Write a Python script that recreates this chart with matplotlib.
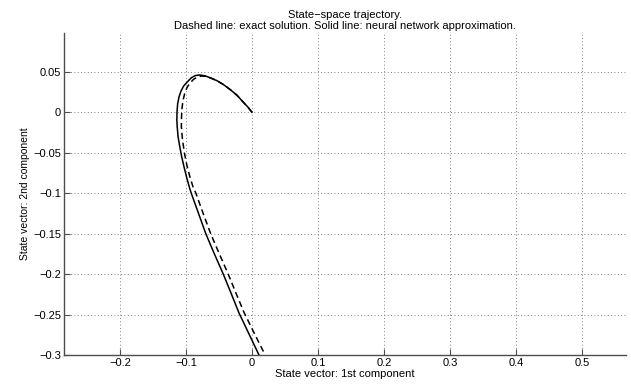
import matplotlib
matplotlib.use('Agg')
import matplotlib.pyplot as plt
from matplotlib import rc

# trajectory (x = 1st component, y = 2nd component)
# solid line: neural network approximation
nn_x = [0.0, -0.006, -0.0127, -0.0227, -0.033, -0.0429, -0.053, -0.063, -0.071, -0.0793,
        -0.086, -0.092, -0.0985, -0.1035, -0.1076, -0.1105, -0.1126, -0.1136,
        -0.1138, -0.1133, -0.112, -0.1095, -0.1065, -0.1028, -0.0985, -0.094,
        -0.092, -0.081, -0.070, -0.057, -0.0435, -0.0315, -0.0197, -0.0045, 0.0106]
nn_y = [0.0, 0.0062, 0.012, 0.021, 0.028, 0.034, 0.039, 0.0425, 0.0450, 0.0461,
        0.0453, 0.0425, 0.037, 0.0325, 0.026, 0.019, 0.0105, 0.0,
        -0.01, -0.0177, -0.03, -0.042, -0.055, -0.068, -0.082, -0.095,
        -0.1, -0.125, -0.15, -0.175, -0.2, -0.224, -0.248, -0.274, -0.3]

# dashed line: exact solution
exact_x = [0.0, -0.006, -0.0127, -0.0227, -0.033, -0.0429, -0.053, -0.063, -0.070, -0.076,
           -0.082, -0.088, -0.0935, -0.0985, -0.102, -0.1045, -0.106, -0.1067,
           -0.107, -0.1055, -0.1025, -0.0985, -0.094, -0.089, -0.085, -0.074,
           -0.0626, -0.0495, -0.036, -0.024, -0.0117, 0.004, 0.020]
exact_y = [0.0, 0.0062, 0.012, 0.021, 0.028, 0.034, 0.039, 0.0425, 0.0443, 0.0448,
           0.0438, 0.041, 0.0365, 0.0305, 0.023, 0.0145, 0.005, -0.005,
           -0.0177, -0.032, -0.05, -0.066, -0.08, -0.093, -0.1, -0.125,
           -0.15, -0.175, -0.2, -0.224, -0.248, -0.274, -0.3]

x_ticks = [-0.2, -0.1, 0.0, 0.1, 0.2, 0.3, 0.4, 0.5]
x_labels = ['\u22120.2', '\u22120.1', '0', '0.1', '0.2', '0.3', '0.4', '0.5']
y_ticks = [0.05, 0.0, -0.05, -0.1, -0.15, -0.2, -0.25, -0.3]
y_labels = ['0.05', '0', '\u22120.05', '\u22120.1', '\u22120.15', '\u22120.2', '\u22120.25', '\u22120.3']

rc('font', **{'family': 'Liberation Sans', 'size': 8})

fig = plt.figure(figsize=(6.31, 3.85), dpi=100)
ax = fig.add_axes([64 / 631, 30 / 385, 562 / 631, 322.3 / 385])

ax.plot(nn_x, nn_y, color='k', lw=1.1, solid_joinstyle='round')
ax.plot(exact_x, exact_y, color='k', lw=1.1, dashes=(4, 2.5))

ax.set_xlim(-0.2848, 0.5667)
ax.set_ylim(-0.3, 0.0983)
ax.set_xticks(x_ticks)
ax.set_xticklabels(x_labels)
ax.set_yticks(y_ticks)
ax.set_yticklabels(y_labels)

# matlab look: no box, inward ticks, dotted grid
ax.spines['top'].set_visible(False)
ax.spines['right'].set_visible(False)
for s in ('left', 'bottom'):
    ax.spines[s].set_color('0.3')
    ax.spines[s].set_linewidth(1.0)
ax.tick_params(direction='in', length=4, width=0.8, color='0.3', pad=2, labelsize=8)
ax.grid(True, color='0.35', linestyle=(0, (1, 3)), linewidth=0.6)
ax.set_axisbelow(True)

ax.set_title('State\u2212space trajectory.\n'
             'Dashed line: exact solution. Solid line: neural network approximation.',
             fontsize=8, pad=3, linespacing=1.1)
ax.set_xlabel('State vector: 1st component', fontsize=8, labelpad=1)
ax.set_ylabel('State vector: 2nd component', fontsize=7.5, labelpad=2)

fig.savefig('out.png', dpi=100)
